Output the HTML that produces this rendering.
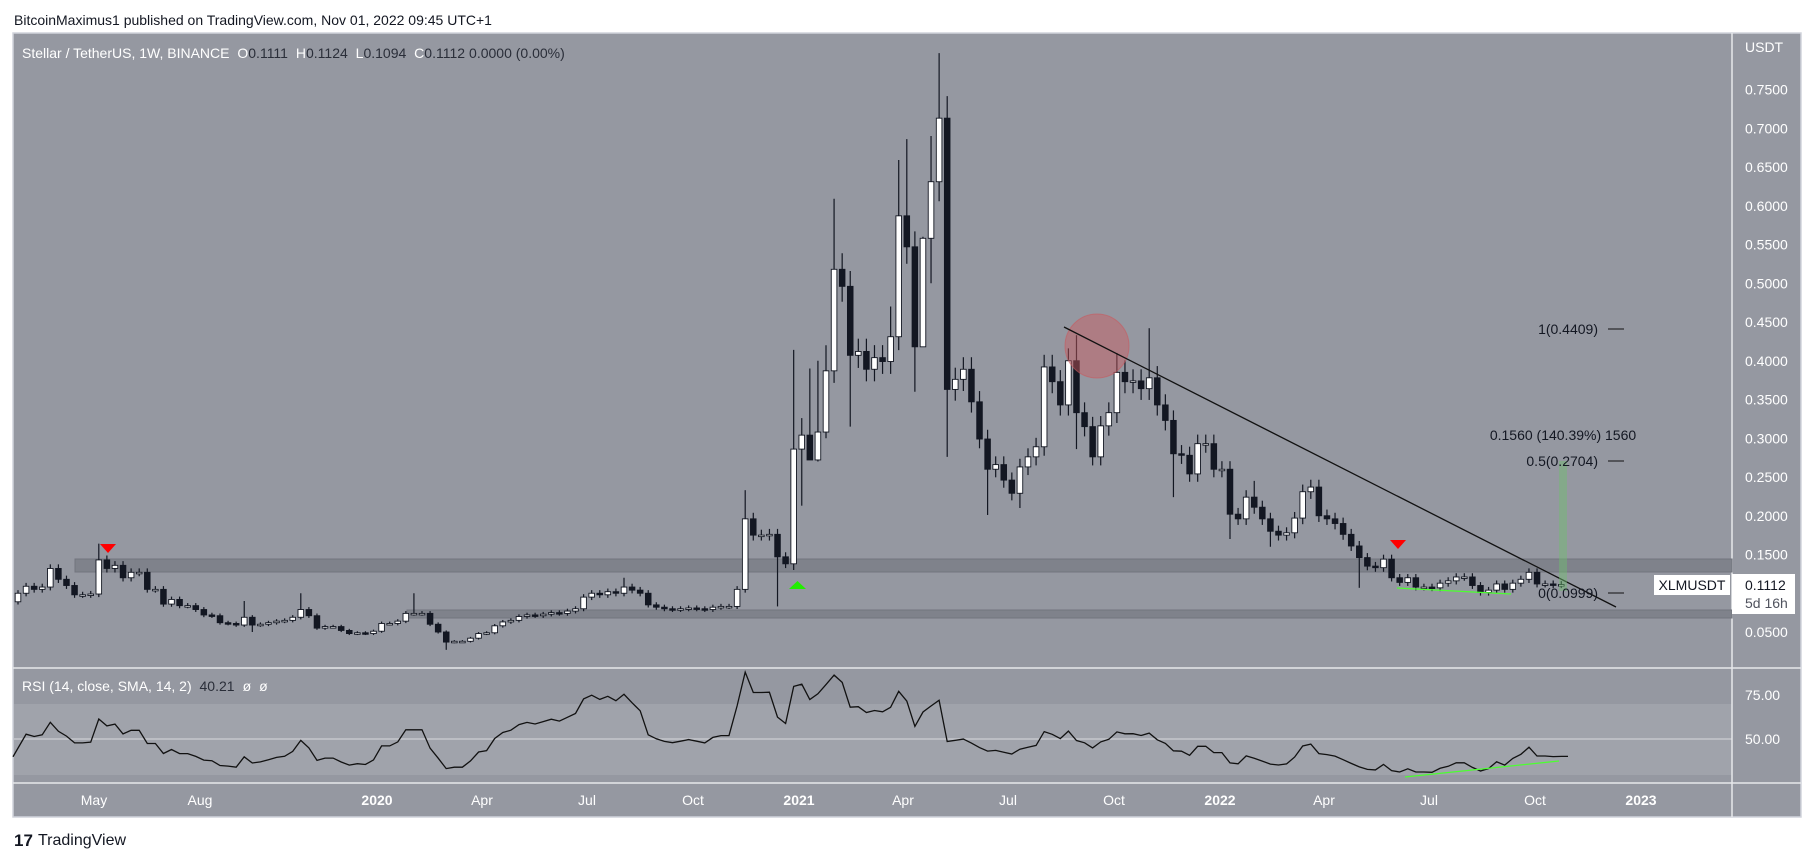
<!DOCTYPE html>
<html><head><meta charset="utf-8">
<style>
html,body{margin:0;padding:0;background:#fff;width:1814px;height:861px;overflow:hidden;}
svg{display:block;font-family:"Liberation Sans",sans-serif;}
</style></head>
<body>
<svg id="s" width="1814" height="861" xmlns="http://www.w3.org/2000/svg">
<rect x="0" y="0" width="1814" height="861" fill="#fff"/>
<text x="14" y="25" font-size="14" fill="#131722">BitcoinMaximus1 published on TradingView.com, Nov 01, 2022 09:45 UTC+1</text>
<rect x="13" y="33" width="1788" height="784" fill="#9598a1" stroke="#d1d4dc" stroke-width="1.5"/>
<rect x="14" y="704" width="1718" height="71" fill="#a0a3ab"/>
<line x1="14" y1="739" x2="1732" y2="739" stroke="#d8d9de" stroke-width="1"/>
<line x1="1732" y1="33" x2="1732" y2="817" stroke="#e6e7ea" stroke-width="1.5"/>
<line x1="13" y1="668" x2="1801" y2="668" stroke="#e6e7ea" stroke-width="1.5"/>
<line x1="13" y1="783" x2="1801" y2="783" stroke="#e6e7ea" stroke-width="1.5"/>
<rect x="75" y="559" width="1657" height="13" fill="#7f828b" stroke="#72757e" stroke-width="1"/>
<rect x="407" y="610" width="1325" height="8" fill="#7f828b" stroke="#72757e" stroke-width="1"/>
<g id="axis" font-size="14" fill="#fff"></g>
<g id="candles"></g>
<polyline id="rsi" fill="none" stroke="#111" stroke-width="1.3"/>
<circle cx="1097" cy="346" r="32" fill="rgba(205,90,95,0.45)" stroke="rgba(200,90,95,0.6)" stroke-width="1"/>
<line x1="1064" y1="327" x2="1616" y2="607" stroke="#111" stroke-width="1.3"/>
<rect x="1559" y="461" width="8" height="130" fill="rgba(110,190,110,0.45)"/>
<line x1="1397" y1="588" x2="1511" y2="594" stroke="#4cff30" stroke-width="1.3"/>
<line x1="1405" y1="777" x2="1559" y2="761" stroke="#4cff30" stroke-width="1.3"/>
<polygon points="100,544 116,544 108,553" fill="#ff0000"/>
<polygon points="1390,540 1406,540 1398,549" fill="#ff0000"/>
<polygon points="789,589 806,589 797.5,581" fill="#22ee00"/>
<g font-size="14" fill="#131722">
<text x="1598" y="334" text-anchor="end">1(0.4409)</text>
<text x="1563" y="440" text-anchor="middle">0.1560 (140.39%) 1560</text>
<text x="1598" y="466" text-anchor="end">0.5(0.2704)</text>
<text x="1598" y="598" text-anchor="end">0(0.0999)</text>
</g>
<line x1="1608" y1="329" x2="1624" y2="329" stroke="#111"/>
<line x1="1608" y1="461" x2="1624" y2="461" stroke="#111"/>
<line x1="1608" y1="593" x2="1624" y2="593" stroke="#111"/>
<rect x="1654" y="575" width="76" height="20" fill="#fff"/>
<text x="1692" y="590" font-size="14" fill="#131722" text-anchor="middle">XLMUSDT</text>
<rect x="1732" y="574" width="63" height="40" fill="#fff"/>
<text x="1745" y="590" font-size="14" fill="#131722">0.1112</text>
<text x="1745" y="608" font-size="14" fill="#50535e">5d 16h</text>
<text x="22" y="58" font-size="14" fill="#fff">Stellar / TetherUS, 1W, BINANCE <tspan dx="4">O</tspan><tspan fill="#2a2e39">0.1111</tspan> <tspan dx="4">H</tspan><tspan fill="#2a2e39">0.1124</tspan> <tspan dx="4">L</tspan><tspan fill="#2a2e39">0.1094</tspan> <tspan dx="4">C</tspan><tspan fill="#2a2e39">0.1112</tspan><tspan fill="#2a2e39" dx="4">0.0000 (0.00%)</tspan></text>
<text x="22" y="691" font-size="14" fill="#fff">RSI (14, close, SMA, 14, 2) <tspan fill="#2a2e39" dx="4">40.21</tspan><tspan dx="8">ø</tspan><tspan dx="8">ø</tspan></text>
<text x="14" y="846" font-size="17" font-weight="bold" fill="#131722">17</text>
<text x="38" y="845" font-size="16" fill="#131722">TradingView</text>
</svg>
<script>
var C=[.100,.109,.105,.108,.132,.118,.110,.098,.098,.099,.143,.132,.136,.120,.127,.127,.105,.105,.086,.092,.084,.084,.079,.072,.071,.062,.061,.059,.069,.059,.060,.062,.064,.065,.069,.079,.071,.055,.057,.057,.052,.048,.049,.048,.051,.061,.061,.064,.074,.074,.074,.060,.050,.037,.038,.038,.042,.048,.049,.058,
.063,.065,.070,.072,.071,.073,.075,.074,.077,.080,.095,.100,.098,.102,.100,.108,.104,.100,.085,.082,.080,.079,.080,.081,.080,.079,.082,.083,.083,
.105,.196,.175,.175,.176,.147,.138,.286,.304,.272,.308,.387,.518,.496,.407,.412,.389,.404,.399,.431,.587,.547,.418,.558,.631,.713,.363,.376,.389,.347,.299,.260,.266,.246,.229,.263,.276,.289,.392,.373,.343,.400,.333,.315,.276,.316,.333,.385,.373,.374,.364,.378,.343,.323,.280,.278,.254,.293,.293,.260,.260,.202,.196,.224,.211,.196,.180,.175,.178,.197,.231,.237,.200,.196,.190,.176,.161,.146,.135,.133,.144,.120,.114,.120,.108,.108,.107,.113,.116,.121,.121,.110,.101,.104,.112,.105,.113,.118,.127,.112,.112,.111,.1112];
var HL={10:[.164],29:[null,.050],53:[null,.027],90:[.233],94:[null,.083],96:[.414,.13],97:[.326,.213],98:[.39,.28],99:[.40,.27],100:[.42,.30],101:[.609],103:[null,.315],108:[.47],109:[.659],110:[.686],111:[.567,.36],112:[.56,.42],113:[.69,.50],114:[.797],115:[null,.276],120:[null,.201],124:[null,.21],131:[.433,.286],136:[.41],140:[.442],143:[null,.224],150:[null,.17],153:[.245],155:[null,.16],166:[null,.107],35:[.10],49:[.10],28:[.09],75:[.12]};
function Y(p){return 632-(p-0.05)*775;}
var h='';
for(var i=0;i<C.length;i++){
 var o=i==0?.089:C[i-1], c=C[i];
 if(i==191)o=.1111;
 var x=18+i*8.08;
 var hi=Math.max(o,c)*1.04, lo=Math.min(o,c)*0.96;
 if(HL[i]){if(HL[i][0])hi=HL[i][0];if(HL[i][1]!=null)lo=HL[i][1];}
 var yt=Y(Math.max(o,c)), yb=Y(Math.min(o,c)); if(yb-yt<1.5){yb=yt+1.5;}
 h+='<line x1="'+x+'" y1="'+Y(hi)+'" x2="'+x+'" y2="'+Y(lo)+'" stroke="#131722" stroke-width="1.2"/>';
 var up=c>=o;
 h+='<rect x="'+(x-2.8)+'" y="'+yt+'" width="5.6" height="'+(yb-yt)+'" fill="'+(up?'#fff':'#131722')+'" stroke="#131722" stroke-width="0.9"/>';
}
document.getElementById('candles').innerHTML=h;
var ag=0.006,al=0.006,pts=[];
for(var i=1;i<C.length;i++){var d=C[i]-C[i-1];var g=d>0?d:0,l=d<0?-d:0;ag=(ag*13+g)/14;al=(al*13+l)/14;var r=100-100/(1+ag/al);
 var x=18+i*8.08;pts.push(x.toFixed(1)+','+(739-(r-50)*1.775).toFixed(1));}
pts.unshift('13,'+(739+10*1.775));
pts.push('1568,'+(739-(40.21-50)*1.775).toFixed(1));
document.getElementById('rsi').setAttribute('points',pts.join(' '));
var a='<text x="1745" y="52">USDT</text>';
for(var k=1;k<=15;k++){var p=k*0.05;var y=Y(p);if(Math.abs(y-594)<22)continue;a+='<text x="1745" y="'+(y+5)+'">'+p.toFixed(4)+'</text>';}
a+='<text x="1745" y="700">75.00</text><text x="1745" y="744">50.00</text>';
var tl=[['May',94],['Aug',200],['2020',377,1],['Apr',482],['Jul',587],['Oct',693],['2021',799,1],['Apr',903],['Jul',1008],['Oct',1114],['2022',1220,1],['Apr',1324],['Jul',1429],['Oct',1535],['2023',1641,1]];
tl.forEach(function(t){a+='<text x="'+t[1]+'" y="805" text-anchor="middle"'+(t[2]?' font-weight="bold"':'')+'>'+t[0]+'</text>';});
document.getElementById('axis').innerHTML=a;
</script>
</body></html>
